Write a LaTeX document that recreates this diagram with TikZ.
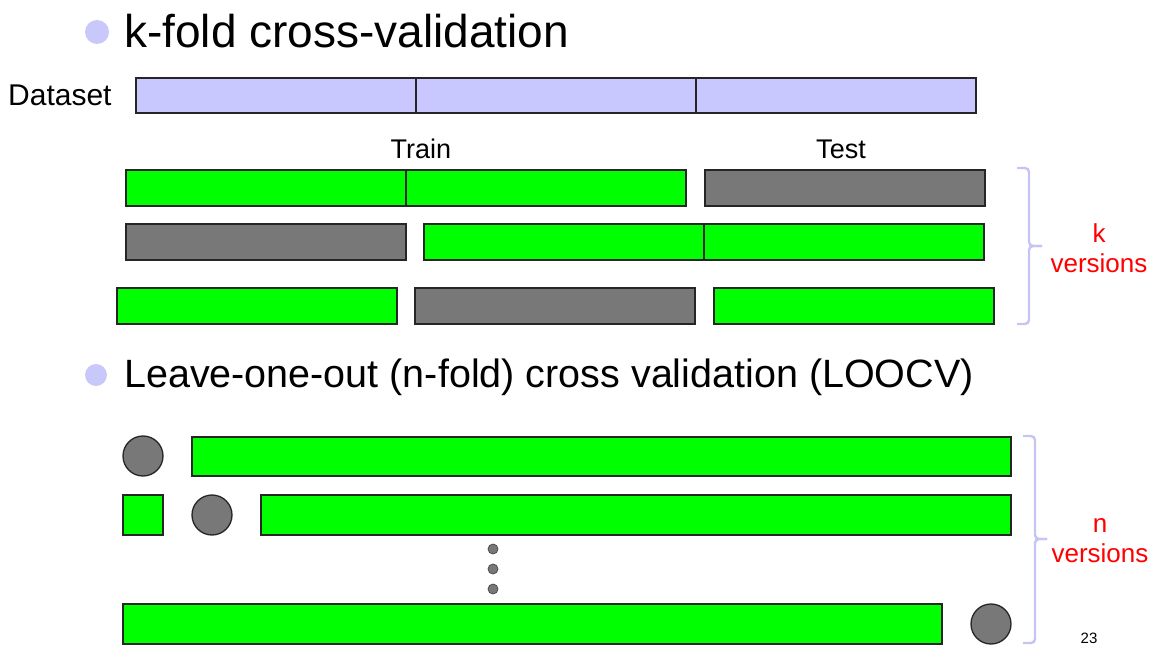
\documentclass[tikz,border=0pt]{standalone}
\usepackage{fontspec}
\setmainfont{Liberation Sans}
\usetikzlibrary{positioning}

\definecolor{foldgreen}{RGB}{0,255,0}
\definecolor{foldgray}{RGB}{120,120,120}
\definecolor{datalav}{RGB}{200,200,255}
\definecolor{bulletlav}{RGB}{200,200,250}
\definecolor{bracelav}{RGB}{196,196,245}

\begin{document}
\begin{tikzpicture}[x=1pt, y=-1pt,
  bar/.style={rectangle, draw=black!85, line width=1.3pt, inner sep=0pt, outer sep=0pt,
    minimum width=280pt, minimum height=36pt, anchor=north west},
  train/.style={bar, fill=foldgreen},
  test/.style={bar, fill=foldgray},
  data/.style={bar, fill=datalav, minimum height=35pt},
  held/.style={circle, draw=black!85, line width=1.3pt, fill=foldgray, minimum size=40pt, inner sep=0pt},
  dot/.style={circle, draw=black!70, line width=0.8pt, fill=foldgray, minimum size=10pt, inner sep=0pt},
  bullet/.style={circle, fill=bulletlav, inner sep=0pt},
  heading/.style={anchor=base west, inner sep=0pt},
  versions/.style={align=center, text=red, font=\fontsize{26}{30}\selectfont},
  brace/.style={draw=bracelav, line width=2.4pt, rounded corners=4pt}
]
\useasboundingbox (0,0) rectangle (1160,668);

% k-fold part
\node[bullet, minimum size=24pt] (b1) at (97,32) {};
\node[heading, font=\fontsize{46}{50}\selectfont] (title1) at (124,48) {k-fold cross-validation};

\node[anchor=base west, inner sep=0pt, font=\fontsize{30}{34}\selectfont] (dlabel) at (8,106) {Dataset};
\node[data] (d1) at (136,78) {};
\node[data, right=0pt of d1] (d2) {};
\node[data, right=0pt of d2] (d3) {};

\node[font=\fontsize{27}{30}\selectfont] (trainlbl) at (421,149) {Train};
\node[font=\fontsize{27}{30}\selectfont] (testlbl) at (841,149) {Test};

\node[train] (r1a) at (126,170) {};
\node[train, right=0pt of r1a] (r1b) {};
\node[test, right=19pt of r1b] (r1c) {};

\node[test] (r2a) at (126,224) {};
\node[train, right=18pt of r2a] (r2b) {};
\node[train, right=0pt of r2b] (r2c) {};

\node[train] (r3a) at (117,288) {};
\node[test, right=18pt of r3a] (r3b) {};
\node[train, right=19pt of r3b] (r3c) {};

% brace over the k rows
\coordinate (kb1) at (1017,168);
\coordinate (kb2) at (1017,324);
\draw[brace] (kb1) -- ++(12,0) -- ++(0,78) -- ++(13,0);
\draw[brace] (kb2) -- ++(12,0) -- ++(0,-78) -- ++(13,0);
\node[versions] (klabel) at (1099,248) {k\\versions};

% leave-one-out part
\node[bullet, minimum size=22pt] (b2) at (96,375) {};
\node[heading, font=\fontsize{39.5}{44}\selectfont] (title2) at (124,388) {Leave-one-out (n-fold) cross validation (LOOCV)};

\node[held] (c1) at (143,456) {};
\node[train, minimum width=819pt, minimum height=39pt] (l1) at (192,437) {};

\node[train, minimum width=40pt, minimum height=40pt] (sq) at (123,495) {};
\node[held] (c2) at (212,515) {};
\node[train, minimum width=750pt, minimum height=40pt] (l2) at (261,495) {};

\node[dot] (dot1) at (493,549) {};
\node[dot] (dot2) at (493,569) {};
\node[dot] (dot3) at (493,589) {};

\node[train, minimum width=819pt, minimum height=40pt] (l3) at (123,604) {};
\node[held] (c3) at (991,624) {};

% brace over the n rows
\coordinate (nb1) at (1023,436);
\coordinate (nb2) at (1023,643);
\draw[brace] (nb1) -- ++(12,0) -- ++(0,103) -- ++(12,0);
\draw[brace] (nb2) -- ++(12,0) -- ++(0,-104) -- ++(12,0);
\node[versions] (nlabel) at (1100,541) {n\\versions};

\node[font=\fontsize{15}{18}\selectfont] (page) at (1089,638) {23};
\end{tikzpicture}
\end{document}
